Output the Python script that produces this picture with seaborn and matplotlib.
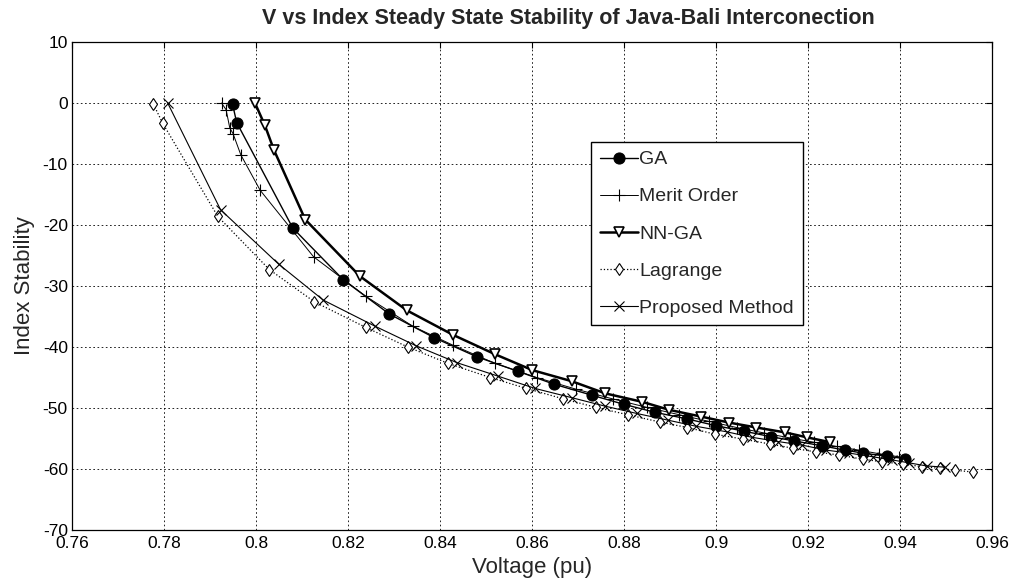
import matplotlib
matplotlib.use("Agg")
import matplotlib.pyplot as plt
import seaborn as sns
import numpy as np

# ---- data ----
ga_v = [0.7949, 0.7958, 0.8080, 0.8190, 0.8290, 0.8388, 0.8480, 0.8570, 0.8648, 0.8730,
        0.8800, 0.8867, 0.8938, 0.9000, 0.9061, 0.9119, 0.9170, 0.9231, 0.9280, 0.9320,
        0.9371, 0.9411]
ga_idx = [-0.2, -3.2, -20.5, -29.0, -34.6, -38.5, -41.6, -44.0, -46.1, -47.9,
          -49.4, -50.7, -51.8, -52.9, -53.8, -54.7, -55.4, -56.2, -56.9, -57.4,
          -57.9, -58.3]

merit_v = [0.7925, 0.7935, 0.7943, 0.7950, 0.7967, 0.8009, 0.8125, 0.8239, 0.8341, 0.8428,
           0.8520, 0.8610, 0.8695, 0.8775, 0.8850, 0.8920, 0.8985, 0.9045, 0.9105, 0.9160,
           0.9212, 0.9262, 0.9310, 0.9355, 0.9398]
merit_idx = [0.0, -1.1, -4.1, -5.0, -8.5, -14.3, -25.2, -31.7, -36.6, -39.7,
             -42.7, -45.0, -46.9, -48.5, -49.9, -51.1, -52.2, -53.2, -54.1, -54.9,
             -55.6, -56.3, -56.9, -57.5, -58.0]

nnga_v = [0.7998, 0.8019, 0.8039, 0.8107, 0.8226, 0.8328, 0.8428, 0.8520, 0.8601, 0.8686,
          0.8759, 0.8840, 0.8898, 0.8967, 0.9029, 0.9088, 0.9150, 0.9197, 0.9248]
nnga_idx = [-0.05, -3.6, -7.7, -19.1, -28.4, -34.0, -38.0, -41.2, -43.8, -45.6,
            -47.6, -49.0, -50.3, -51.4, -52.4, -53.2, -54.0, -54.8, -55.6]

lag_v = [0.7777, 0.7797, 0.7917, 0.8029, 0.8127, 0.8239, 0.8330, 0.8418, 0.8509, 0.8588,
         0.8668, 0.8739, 0.8808, 0.8878, 0.8938, 0.8998, 0.9059, 0.9117, 0.9168, 0.9217,
         0.9268, 0.9319, 0.9360, 0.9406, 0.9447, 0.9487, 0.9520, 0.9559]
lag_idx = [-0.2, -3.3, -18.6, -27.3, -32.6, -36.8, -40.0, -42.7, -45.0, -46.8,
           -48.5, -49.9, -51.1, -52.3, -53.2, -54.3, -55.1, -55.9, -56.6, -57.2,
           -57.7, -58.4, -58.8, -59.2, -59.6, -59.9, -60.2, -60.5]

prop_v = [0.7808, 0.7923, 0.8049, 0.8146, 0.8259, 0.8348, 0.8438, 0.8527, 0.8607, 0.8686,
          0.8759, 0.8828, 0.8896, 0.8957, 0.9023, 0.9078, 0.9135, 0.9188, 0.9239, 0.9290,
          0.9341, 0.9382, 0.9420, 0.9458, 0.9498]
prop_idx = [0.0, -17.5, -26.4, -32.3, -36.6, -39.8, -42.6, -44.8, -46.8, -48.3,
            -49.7, -50.9, -52.0, -53.0, -53.9, -54.8, -55.5, -56.1, -56.9, -57.4,
            -58.0, -58.5, -59.0, -59.5, -59.7]

x_ticks = [0.76, 0.78, 0.80, 0.82, 0.84, 0.86, 0.88, 0.90, 0.92, 0.94, 0.96]
x_tick_labels = ["0.76", "0.78", "0.8", "0.82", "0.84", "0.86", "0.88", "0.9", "0.92", "0.94", "0.96"]
y_ticks = [-70, -60, -50, -40, -30, -20, -10, 0, 10]
y_tick_labels = ["-70", "-60", "-50", "-40", "-30", "-20", "-10", "0", "10"]

title = "V vs Index Steady State Stability of Java-Bali Interconection"

# ---- style ----
sns.set_theme(style="white")
plt.rcParams['font.family'] = ['Liberation Sans', 'DejaVu Sans']

fig = plt.figure(figsize=(10.13, 5.85), dpi=100)
ax = fig.add_axes([72 / 1013, 1 - 530 / 585, 920 / 1013, 488 / 585])

common = dict(ax=ax, sort=False, estimator=None, color="black")
sns.lineplot(x=ga_v, y=ga_idx, marker="o", markersize=8, linewidth=1.0,
             markerfacecolor="black", markeredgecolor="black", label="GA", **common)
sns.lineplot(x=merit_v, y=merit_idx, marker="+", markersize=8, linewidth=0.7,
             markeredgecolor="black", markeredgewidth=0.8, label="Merit Order", **common)
sns.lineplot(x=nnga_v, y=nnga_idx, marker="v", markersize=7, linewidth=1.8,
             markerfacecolor="white", markeredgecolor="black", markeredgewidth=1.2,
             label="NN-GA", **common)
sns.lineplot(x=lag_v, y=lag_idx, marker="d", markersize=6, linewidth=0.9, linestyle=":",
             markerfacecolor="white", markeredgecolor="black", markeredgewidth=0.8,
             label="Lagrange", **common)
sns.lineplot(x=prop_v, y=prop_idx, marker="x", markersize=7, linewidth=0.8,
             markeredgecolor="black", markeredgewidth=0.8, label="Proposed Method", **common)

ax.set_xlim(0.76, 0.96)
ax.set_ylim(-70, 10)
ax.set_xticks(x_ticks)
ax.set_xticklabels(x_tick_labels)
ax.set_yticks(y_ticks)
ax.set_yticklabels(y_tick_labels)
ax.tick_params(axis="both", which="both", direction="in", length=4, width=0.8,
               top=True, right=True, labelsize=12.5, colors="black")
ax.tick_params(axis="x", pad=4)
ax.tick_params(axis="y", pad=3)
ax.grid(True, linestyle=(0, (2, 3)), color="black", linewidth=0.6)
for s in ax.spines.values():
    s.set_color("black")
    s.set_linewidth(0.9)

ax.set_xlabel("Voltage (pu)", fontsize=16)
ax.set_ylabel("Index Stability", fontsize=16)
ax.xaxis.set_label_coords(0.5, -0.056)
ax.yaxis.set_label_coords(-0.040, 0.5)
ax.set_title(title, fontsize=15.5, fontweight="bold", pad=13, x=0.54)

leg = ax.legend(loc="upper left", bbox_to_anchor=(0.564, 0.795), fontsize=14,
                frameon=True, fancybox=False, edgecolor="black", framealpha=1,
                labelspacing=1.0, handlelength=1.95, handletextpad=0.1,
                borderpad=0.45, borderaxespad=0)
leg.get_frame().set_linewidth(1.0)

fig.savefig("out.png", dpi=100, facecolor="white")
